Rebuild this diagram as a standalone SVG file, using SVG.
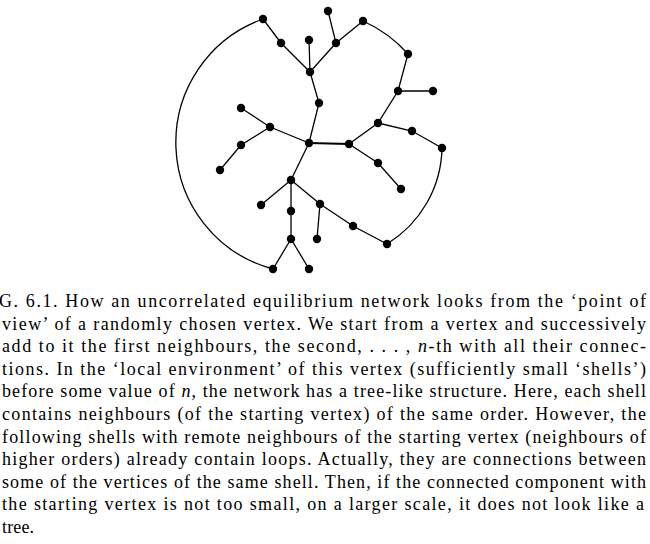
<svg xmlns="http://www.w3.org/2000/svg" width="650" height="544" viewBox="0 0 650 544">
<style>
  .e { stroke: #000; stroke-width: 1.3; fill: none; }
  .thick { stroke-width: 2.2; }
  .n circle { fill: #000; }
  .cap { font-family: "Liberation Serif", "Times New Roman", serif; font-size: 18px; fill: #000; }
  .it { font-style: italic; }
</style>
<rect width="650" height="544" fill="#fff"/>
<g id="connectors">
  <path class="e" d="M263,19 A131,131 0 0 0 273,269"/>
  <path class="e" d="M363,21 A133,133 0 0 1 408,54"/>
  <path class="e" d="M442,148 A115,115 0 0 1 387,244"/>
  <path class="e" d="M263,19 L281,43 L310,72"/>
  <path class="e" d="M309,40 L310,72"/>
  <path class="e" d="M328,11 L336,43 L310,72"/>
  <path class="e" d="M336,43 L363,21"/>
  <path class="e" d="M310,72 L319,103 L309,143"/>
  <path class="e" d="M408,54 L398,91 L378,123 L349,144"/>
  <path class="e" d="M398,91 L433,91"/>
  <path class="e" d="M378,123 L412,131 L442,148"/>
  <path class="e" d="M241,108 L270,127 L309,143"/>
  <path class="e" d="M270,127 L241,145 L220,170"/>
  <path class="e thick" d="M309,143 L349,144"/>
  <path class="e" d="M349,144 L378,163 L401,189"/>
  <path class="e" d="M309,143 L291,180"/>
  <path class="e" d="M291,180 L261,205"/>
  <path class="e" d="M291,180 L291,211 L291,239"/>
  <path class="e" d="M291,180 L320,204"/>
  <path class="e" d="M291,239 L273,269"/>
  <path class="e" d="M291,239 L309,269"/>
  <path class="e" d="M320,204 L317,239"/>
  <path class="e" d="M320,204 L353,226 L387,244"/>
</g>
<g id="nA" class="n"><circle cx="263" cy="19" r="4.2"/></g>
<g id="nB" class="n"><circle cx="328" cy="11" r="4.2"/></g>
<g id="nC" class="n"><circle cx="363" cy="21" r="4.2"/></g>
<g id="nD" class="n"><circle cx="281" cy="43" r="4.2"/></g>
<g id="nE" class="n"><circle cx="309" cy="40" r="4.2"/></g>
<g id="nF" class="n"><circle cx="336" cy="43" r="4.2"/></g>
<g id="nG" class="n"><circle cx="310" cy="72" r="4.2"/></g>
<g id="nH" class="n"><circle cx="408" cy="54" r="4.2"/></g>
<g id="nI" class="n"><circle cx="398" cy="91" r="4.2"/></g>
<g id="nJ" class="n"><circle cx="433" cy="91" r="4.2"/></g>
<g id="nK" class="n"><circle cx="319" cy="103" r="4.2"/></g>
<g id="nL" class="n"><circle cx="241" cy="108" r="4.2"/></g>
<g id="nM" class="n"><circle cx="270" cy="127" r="4.2"/></g>
<g id="nN" class="n"><circle cx="378" cy="123" r="4.2"/></g>
<g id="nO" class="n"><circle cx="412" cy="131" r="4.2"/></g>
<g id="nP" class="n"><circle cx="309" cy="143" r="4.2"/></g>
<g id="nQ" class="n"><circle cx="349" cy="144" r="4.2"/></g>
<g id="nR" class="n"><circle cx="241" cy="145" r="4.2"/></g>
<g id="nS" class="n"><circle cx="442" cy="148" r="4.2"/></g>
<g id="nT" class="n"><circle cx="220" cy="170" r="4.2"/></g>
<g id="nU" class="n"><circle cx="378" cy="163" r="4.2"/></g>
<g id="nV" class="n"><circle cx="291" cy="180" r="4.2"/></g>
<g id="nW" class="n"><circle cx="401" cy="189" r="4.2"/></g>
<g id="nX" class="n"><circle cx="261" cy="205" r="4.2"/></g>
<g id="nY" class="n"><circle cx="320" cy="204" r="4.2"/></g>
<g id="nZ" class="n"><circle cx="291" cy="211" r="4.2"/></g>
<g id="nAA" class="n"><circle cx="353" cy="226" r="4.2"/></g>
<g id="nAB" class="n"><circle cx="317" cy="239" r="4.2"/></g>
<g id="nAC" class="n"><circle cx="291" cy="239" r="4.2"/></g>
<g id="nAD" class="n"><circle cx="387" cy="244" r="4.2"/></g>
<g id="nAE" class="n"><circle cx="273" cy="269" r="4.2"/></g>
<g id="nAF" class="n"><circle cx="309" cy="269" r="4.2"/></g>
<g id="caption" class="cap">
  <text x="-1" y="307" textLength="647" lengthAdjust="spacing">G. 6.1. How an uncorrelated equilibrium network looks from the ‘point of</text>
  <text x="2" y="329.6" textLength="644" lengthAdjust="spacing">view’ of a randomly chosen vertex. We start from a vertex and successively</text>
  <text x="2" y="352.2" textLength="644" lengthAdjust="spacing">add to it the first neighbours, the second, . . . , <tspan class="it">n</tspan>-th with all their connec-</text>
  <text x="2" y="374.8" textLength="644" lengthAdjust="spacing">tions. In the ‘local environment’ of this vertex (sufficiently small ‘shells’)</text>
  <text x="2" y="397.4" textLength="644" lengthAdjust="spacing">before some value of <tspan class="it">n</tspan>, the network has a tree-like structure. Here, each shell</text>
  <text x="2" y="420" textLength="644" lengthAdjust="spacing">contains neighbours (of the starting vertex) of the same order. However, the</text>
  <text x="2" y="442.6" textLength="644" lengthAdjust="spacing">following shells with remote neighbours of the starting vertex (neighbours of</text>
  <text x="2" y="465.2" textLength="644" lengthAdjust="spacing">higher orders) already contain loops. Actually, they are connections between</text>
  <text x="2" y="487.8" textLength="644" lengthAdjust="spacing">some of the vertices of the same shell. Then, if the connected component with</text>
  <text x="2" y="510.4" textLength="642" lengthAdjust="spacing">the starting vertex is not too small, on a larger scale, it does not look like a</text>
  <text x="2" y="533" textLength="32" lengthAdjust="spacing">tree.</text>
</g>
</svg>
